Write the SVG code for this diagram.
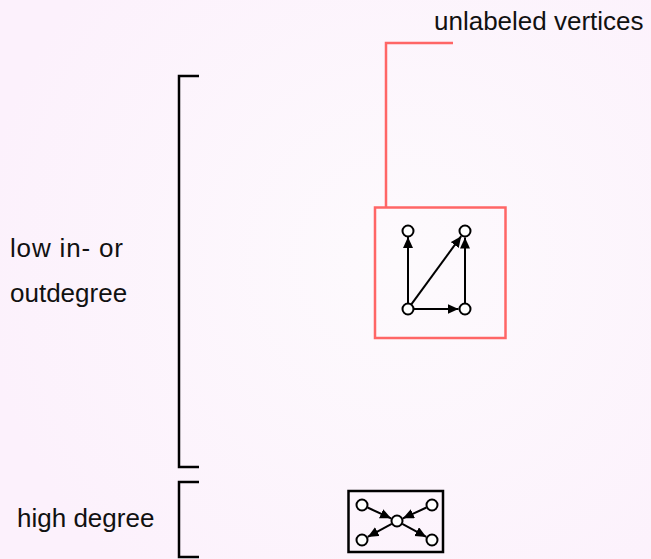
<svg xmlns="http://www.w3.org/2000/svg" width="651" height="559" viewBox="0 0 651 559">
<defs>
<radialGradient id="bg" cx="400" cy="260" r="420" gradientUnits="userSpaceOnUse">
<stop offset="0" stop-color="#fdfafd"/>
<stop offset="1" stop-color="#fcf1fc"/>
</radialGradient>
<marker id="ah" markerUnits="userSpaceOnUse" markerWidth="13" markerHeight="11" refX="11" refY="5" orient="auto">
<path d="M0,0 L11,5 L0,10 z" fill="#000"/>
</marker>
</defs>
<style>
text{font-family:"Liberation Sans",Arial,sans-serif;font-size:26px;fill:#111}
.v{fill:#fff;stroke:#000;stroke-width:2}
.e{stroke:#000;stroke-width:2;fill:none;marker-end:url(#ah)}
.br{stroke:#000;stroke-width:2.5;fill:none}
</style>
<rect width="651" height="559" fill="url(#bg)"/>
<g id="labels">
<text x="434" y="30">unlabeled vertices</text>
<text x="10" y="257" textLength="113">low in- or</text>
<text x="10" y="302">outdegree</text>
<text x="17" y="527">high degree</text>
</g>
<g id="brackets">
<path class="br" d="M199,76 H179 V467 H199"/>
<path class="br" d="M199,482 H179 V557 H199"/>
</g>
<g id="callout">
<path d="M453,43 H386 V207" stroke="#ff6666" stroke-width="2.5" fill="none"/>
</g>
<g id="low-box">
<rect x="375" y="207.5" width="130.5" height="130.5" fill="none" stroke="#ff6666" stroke-width="2.5"/>
</g>
<g id="high-box">
<rect x="348.5" y="491" width="94.5" height="61" fill="none" stroke="#000" stroke-width="2.5"/>
</g>
<g id="connectors">
<line class="e" x1="408" y1="303" x2="408" y2="237"/>
<line class="e" x1="411.5" y1="304.2" x2="461.2" y2="236.2"/>
<line class="e" x1="414" y1="309" x2="458.5" y2="309"/>
<line class="e" x1="465" y1="303" x2="465" y2="237.5"/>
<line class="e" x1="367.5" y1="507.5" x2="391.1" y2="518.3"/>
<line class="e" x1="426.5" y1="507.5" x2="402.9" y2="518.3"/>
<line class="e" x1="391.7" y1="523.9" x2="367.7" y2="536.9"/>
<line class="e" x1="402.3" y1="523.9" x2="426.3" y2="536.9"/>
</g>
<g id="v1"><circle class="v" cx="408" cy="231" r="5.5"/></g>
<g id="v2"><circle class="v" cx="465" cy="231" r="5.5"/></g>
<g id="v3"><circle class="v" cx="408" cy="309" r="5.5"/></g>
<g id="v4"><circle class="v" cx="465" cy="309" r="5.5"/></g>
<g id="w0"><circle class="v" cx="397" cy="521" r="5.5"/></g>
<g id="w1"><circle class="v" cx="362" cy="505" r="5.5"/></g>
<g id="w2"><circle class="v" cx="432" cy="505" r="5.5"/></g>
<g id="w3"><circle class="v" cx="362" cy="540" r="5.5"/></g>
<g id="w4"><circle class="v" cx="432" cy="540" r="5.5"/></g>
</svg>
